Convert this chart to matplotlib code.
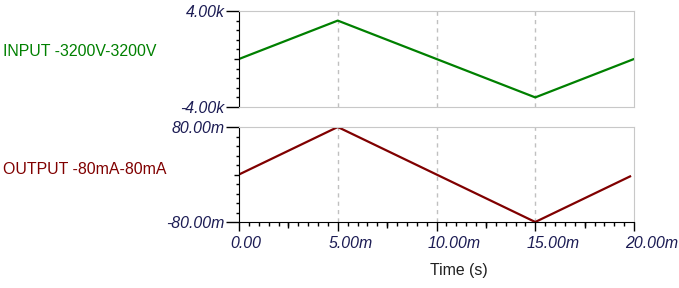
import matplotlib
matplotlib.use("Agg")
import matplotlib.pyplot as plt
from matplotlib.transforms import ScaledTranslation
from numpy import arange

# data (time in ms)
t_in = [0, 5, 15, 20]
v_in = [0, 3200, -3200, 0]
t_out = [0, 5, 15, 19.8]
i_out = [0, 80, -80, -3.2]

x_ticks = [0, 5, 10, 15, 20]
x_labels = ["0.00", "5.00m", "10.00m", "15.00m", "20.00m"]
in_ticks = [-4000, 4000]
in_labels = ["-4.00k", "4.00k"]
out_ticks = [-80, 80]
out_labels = ["-80.00m", "80.00m"]

plt.rcParams['font.family'] = ['Liberation Sans', 'DejaVu Sans']

navy = '#1c1c54'
gray = '#c8c8c8'
px = 72 / 100  # points per pixel
fs = 11.4

fig = plt.figure(figsize=(6.79, 2.88), dpi=100)
ax1 = fig.add_axes([239/679, 1-107/288, 395/679, 96/288])
ax2 = fig.add_axes([239/679, 1-222/288, 395/679, 95/288])


def style(ax, lo, hi, ticks, labels, step, color_bottom):
    ax.set_xlim(0, 20)
    ax.set_ylim(lo, hi)
    for s in ['top', 'right']:
        ax.spines[s].set_color(gray)
    ax.spines['bottom'].set_color(color_bottom)
    ax.spines['left'].set_color('black')
    ax.set_yticks(ticks)
    ax.set_yticklabels(labels, fontsize=fs, style='italic', color=navy)
    ax.set_yticks([v for v in arange(lo, hi + step / 2, step) if lo < v < hi and abs(v) > 1e-9], minor=True)
    ax.tick_params(axis='y', which='major', length=13*px, width=1, pad=1)
    ax.tick_params(axis='y', which='minor', length=3*px, width=1)
    sec = ax.secondary_yaxis('left')
    sec.set_yticks([0])
    sec.set_yticklabels([""])
    sec.tick_params(length=5*px, width=1)
    sec.spines['left'].set_visible(False)
    for x in [5, 10, 15]:
        ax.axvline(x, color='#c0c0c0', lw=1, ls=(0, (3, 3)), zorder=0)


style(ax1, -4000, 4000, in_ticks, in_labels, 800, gray)
ax1.set_xticks([])
ax1.plot(t_in, v_in, color='#008000', lw=1.6)

style(ax2, -80, 80, out_ticks, out_labels, 16, 'black')
ax2.plot(t_out, i_out, color='#800000', lw=1.6)
ax2.set_xticks(x_ticks)
ax2.set_xticklabels(x_labels, fontsize=fs, style='italic', color=navy, ha='left')
ax2.set_xticks(arange(0.5, 20, 0.5), minor=True)
ax2.tick_params(axis='x', which='major', length=9*px, width=1, pad=3.5)
ax2.tick_params(axis='x', which='minor', length=4*px, width=1)
shift = ScaledTranslation(-9/100, 0, fig.dpi_scale_trans)
for lab in ax2.get_xticklabels():
    lab.set_transform(lab.get_transform() + shift)
secx = ax2.secondary_xaxis('bottom')
secx.set_xticks([2.5, 7.5, 12.5, 17.5])
secx.set_xticklabels([""] * 4)
secx.tick_params(length=6*px, width=1)
secx.spines['bottom'].set_visible(False)

fig.text(3/679, 1-52/288, "INPUT -3200V-3200V", color='#008000', fontsize=fs, va='center')
fig.text(3/679, 1-170/288, "OUTPUT -80mA-80mA", color='#800000', fontsize=fs, va='center')
fig.text(459/679, 1-271/288, "Time (s)", color='#202020', fontsize=fs, ha='center', va='center')

fig.savefig("out.png", dpi=100)
